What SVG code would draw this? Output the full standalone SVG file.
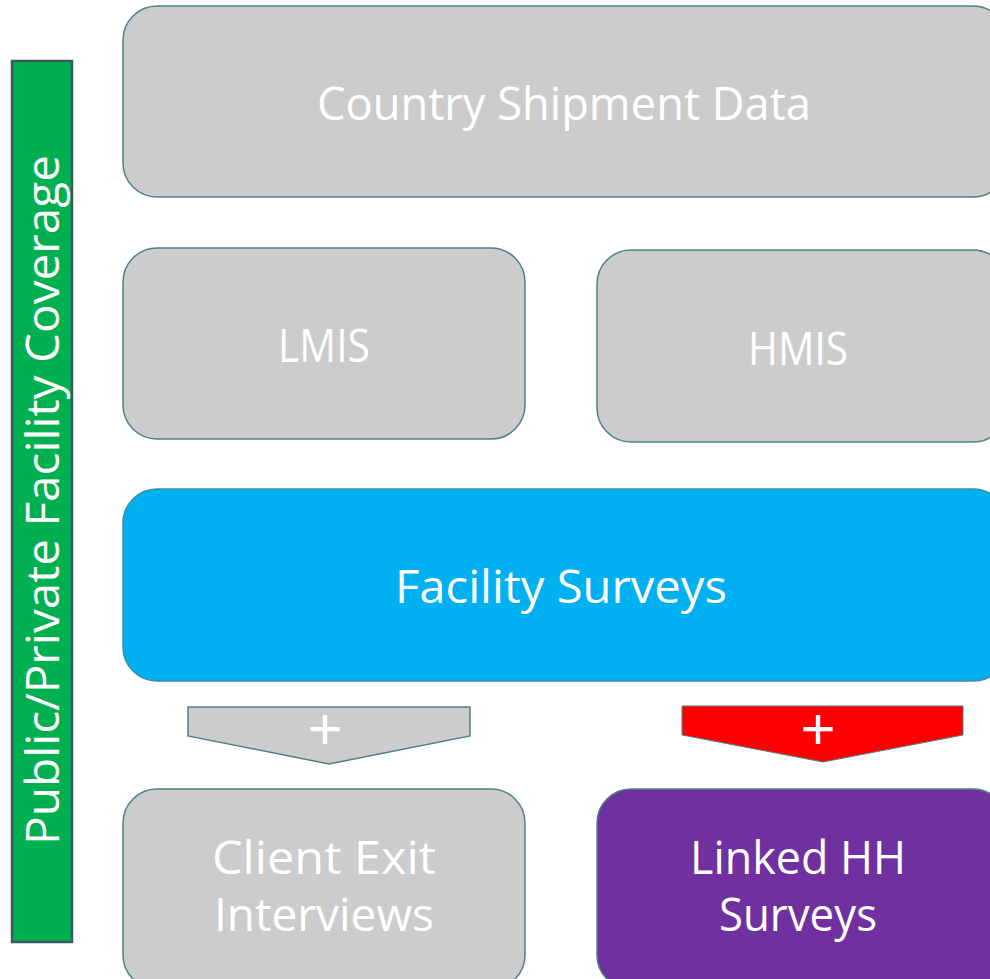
<svg xmlns="http://www.w3.org/2000/svg" width="990" height="979" viewBox="0 0 990 979">
<style>
.box{stroke:#4e8188;stroke-width:1.5}
.gray{fill:#cccccc}
.t{fill:#ffffff;font-family:"Open Sans","Liberation Sans",sans-serif;font-size:45px;text-anchor:middle}
.plus{fill:#ffffff;font-family:"Liberation Sans",sans-serif;font-size:60px;text-anchor:middle}
</style>
<rect width="990" height="979" fill="#ffffff"/>
<g id="coverage">
<rect x="12" y="61" width="60" height="881" fill="#00b050" stroke="#3b5a5e" stroke-width="2.5"/>
<text class="t" transform="translate(59,500) rotate(-90)" textLength="690" lengthAdjust="spacingAndGlyphs">Public/Private Facility Coverage</text>
</g>
<g id="country">
<rect class="box gray" x="123" y="6" width="884" height="191" rx="34"/>
<text class="t" x="564" y="120" textLength="494" lengthAdjust="spacingAndGlyphs">Country Shipment Data</text>
</g>
<g id="lmis">
<rect class="box gray" x="123" y="248" width="402" height="191" rx="34"/>
<text class="t" x="324" y="362" textLength="92" lengthAdjust="spacingAndGlyphs">LMIS</text>
</g>
<g id="hmis">
<rect class="box gray" x="597" y="250" width="410" height="192" rx="34"/>
<text class="t" x="798" y="365" textLength="100" lengthAdjust="spacingAndGlyphs">HMIS</text>
</g>
<g id="facility">
<rect x="123" y="489" width="884" height="192" rx="34" fill="#00b0f0" stroke="#3a8ea8" stroke-width="1.5"/>
<text class="t" x="561" y="603" textLength="332" lengthAdjust="spacingAndGlyphs">Facility Surveys</text>
</g>
<g id="connectors">
<polygon points="188,707 470,707 470,736 329,764 188,736" fill="#cccccc" stroke="#4e8188" stroke-width="1.5"/>
<text class="plus" x="325" y="749">+</text>
<polygon points="682,706 963,706 963,735 823,762 682,735" fill="#ff0000" stroke="#4e8188" stroke-width="1"/>
<text class="plus" x="818" y="749">+</text>
</g>
<g id="client">
<rect class="box gray" x="123" y="789" width="402" height="200" rx="34"/>
<text class="t" x="324" y="874" textLength="224" lengthAdjust="spacingAndGlyphs">Client Exit</text>
<text class="t" x="324" y="931" textLength="220" lengthAdjust="spacingAndGlyphs">Interviews</text>
</g>
<g id="linked">
<rect x="597" y="789" width="410" height="200" rx="34" fill="#7030a0" stroke="#4e8188" stroke-width="1.5"/>
<text class="t" x="798" y="874" textLength="216" lengthAdjust="spacingAndGlyphs">Linked HH</text>
<text class="t" x="798" y="931" textLength="158" lengthAdjust="spacingAndGlyphs">Surveys</text>
</g>
</svg>
